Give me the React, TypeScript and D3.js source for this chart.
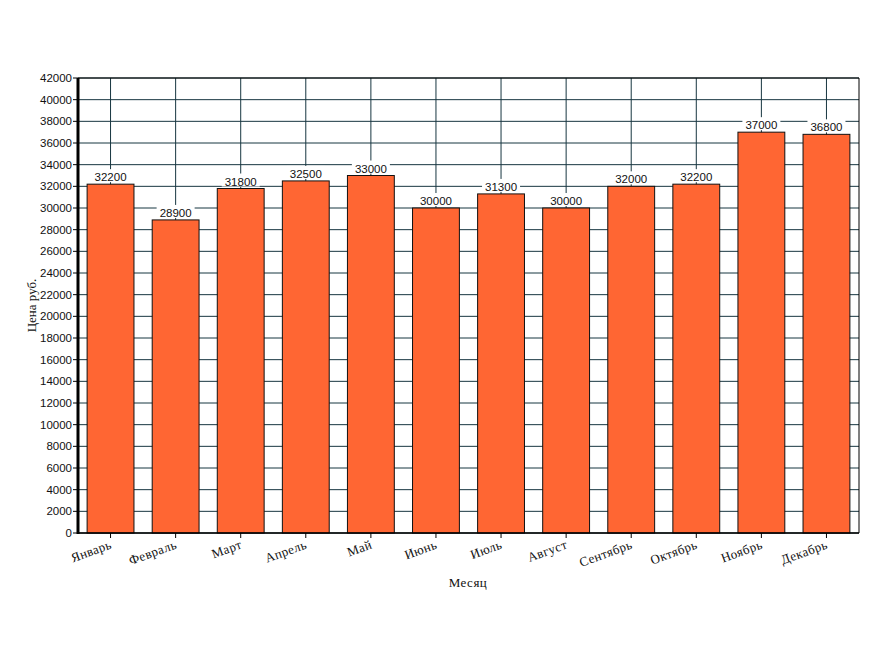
import React from "react";
import * as d3 from "d3";

const months = ["Январь", "Февраль", "Март", "Апрель", "Май", "Июнь", "Июль", "Август", "Сентябрь", "Октябрь", "Ноябрь", "Декабрь"];
const prices = [32200, 28900, 31800, 32500, 33000, 30000, 31300, 30000, 32000, 32200, 37000, 36800];
const yTicks = d3.range(0, 42001, 2000);

export default function App() {
  const W = 884, H = 650;
  const left = 78, right = 859, top = 78, bottom = 533;
  const x = d3.scaleBand().domain(months).range([left, right]).paddingInner(0.28).paddingOuter(0.14);
  const xc = d3.scaleBand().domain(months).range([left, right]);
  const y = d3.scaleLinear().domain([0, 42000]).range([bottom, top]);
  const grid = "#173640";
  const sans = "'Liberation Sans', Arial, sans-serif";
  const serif = "'Liberation Serif', 'Times New Roman', serif";
  return (
    <svg width={W} height={H} style={{ position: "absolute", left: 0, top: 0, background: "#fff" }}>
      {yTicks.map((t) => (
        <line key={"h" + t} x1={left} x2={right} y1={y(t)} y2={y(t)} stroke={grid} strokeWidth={1} />
      ))}
      {months.map((m) => (
        <line key={"v" + m} x1={xc(m)! + xc.bandwidth() / 2} x2={xc(m)! + xc.bandwidth() / 2} y1={top} y2={bottom} stroke={grid} strokeWidth={1} />
      ))}
      <line x1={left} x2={right} y1={top} y2={top} stroke="#000" />
      <line x1={right} x2={right} y1={top} y2={bottom} stroke="#000" />
      {months.map((m, i) => (
        <rect key={"b" + m} x={x(m)!} y={y(prices[i])} width={x.bandwidth()} height={bottom - y(prices[i])} fill="#ff6633" stroke="#111" strokeWidth={1} />
      ))}
      {months.map((m, i) => {
        const cx = x(m)! + x.bandwidth() / 2;
        const ty = y(prices[i]) - 3;
        return (
          <g key={"l" + m}>
            <rect x={cx - 19} y={ty - 12} width={38} height={13} fill="#fff" />
            <text x={cx} y={ty} textAnchor="middle" fontFamily={sans} fontSize={11.5} fill="#111">{prices[i]}</text>
          </g>
        );
      })}
      <line x1={left} x2={left} y1={top} y2={bottom + 1} stroke="#000" strokeWidth={3} />
      <line x1={left} x2={right} y1={bottom} y2={bottom} stroke="#000" strokeWidth={1.5} />
      {yTicks.map((t) => (
        <g key={"yt" + t}>
          <line x1={left - 5} x2={left} y1={y(t)} y2={y(t)} stroke="#000" />
          <text x={left - 6} y={y(t) + 4} textAnchor="end" fontFamily={sans} fontSize={11.5} fill="#111">{t}</text>
        </g>
      ))}
      {months.map((m) => {
        const cx = xc(m)! + xc.bandwidth() / 2;
        return (
          <g key={"xt" + m}>
            <line x1={cx} x2={cx} y1={bottom} y2={bottom + 5} stroke="#000" />
            <text transform={`translate(${cx + 2},${bottom + 15}) rotate(-20)`} textAnchor="end" fontFamily={serif} fontSize={13} letterSpacing={0.4} fill="#111">{m}</text>
          </g>
        );
      })}
      <text x={468} y={587} textAnchor="middle" fontFamily={serif} fontSize={13} letterSpacing={0.5} fill="#111">Месяц</text>
      <text transform={`translate(36,${(top + bottom) / 2}) rotate(-90)`} textAnchor="middle" fontFamily={serif} fontSize={13} fill="#111">Цена руб.</text>
    </svg>
  );
}
